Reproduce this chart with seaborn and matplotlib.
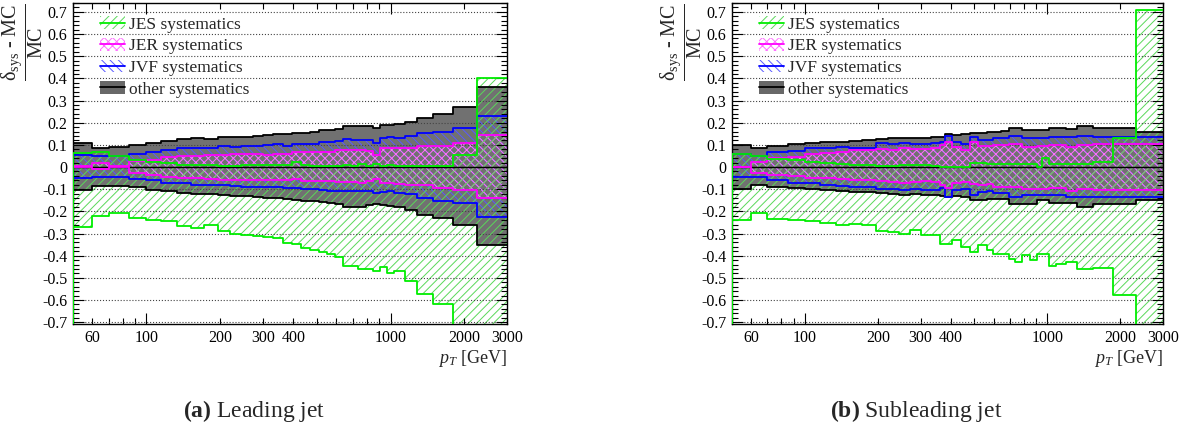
import numpy as np
import matplotlib
matplotlib.use('Agg')
import matplotlib.pyplot as plt
import seaborn as sns
from matplotlib.patches import Patch
from matplotlib.lines import Line2D
from matplotlib.legend_handler import HandlerTuple
from matplotlib.ticker import FixedLocator, FuncFormatter, MultipleLocator

# ---------------- data ----------------
EDGES_L = [50, 60, 70, 85, 100, 115, 134, 152, 172, 196, 220, 245, 272, 300, 330, 362, 396, 430, 468,
           507, 548, 592, 638, 686, 737, 790, 846, 905, 967, 1032, 1148, 1282, 1491, 1800, 2250, 3000]
L_OTHER_UP = [0.110, 0.087, 0.090, 0.098, 0.110, 0.117, 0.125, 0.130, 0.128, 0.134, 0.137, 0.137, 0.140, 0.145,
              0.147, 0.148, 0.152, 0.155, 0.156, 0.165, 0.167, 0.172, 0.187, 0.185, 0.187, 0.185, 0.178, 0.190,
              0.190, 0.192, 0.205, 0.223, 0.238, 0.270, 0.363]
L_JVF_UP = [0.055, 0.050, 0.048, 0.057, 0.066, 0.077, 0.085, 0.087, 0.086, 0.093, 0.092, 0.094, 0.096, 0.098,
            0.104, 0.097, 0.105, 0.106, 0.105, 0.113, 0.115, 0.118, 0.125, 0.122, 0.121, 0.122, 0.110, 0.130,
            0.134, 0.133, 0.138, 0.152, 0.157, 0.175, 0.232]
L_JER_UP = [0.004, 0.017, 0.003, 0.028, 0.030, 0.045, 0.051, 0.052, 0.054, 0.055, 0.057, 0.058, 0.058, 0.055,
            0.060, 0.058, 0.068, 0.069, 0.066, 0.070, 0.068, 0.075, 0.077, 0.076, 0.079, 0.074, 0.054, 0.085,
            0.086, 0.084, 0.088, 0.096, 0.097, 0.110, 0.145]
L_JES_UP = [0.064, 0.066, 0.048, 0.032, 0.025, 0.017, 0.010, 0.009, 0.008, 0.006, 0.006, 0.007, 0.008, 0.008,
            0.010, 0.010, 0.022, 0.008, 0.006, 0.005, 0.006, 0.006, 0.010, 0.006, 0.012, 0.004, 0.012, 0.004,
            0.010, 0.004, 0.003, 0.003, 0.003, 0.054, 0.400]
L_JER_DN = [-0.002, -0.010, 0.000, -0.026, -0.037, -0.044, -0.050, -0.051, -0.052, -0.057, -0.059, -0.058,
            -0.060, -0.058, -0.057, -0.060, -0.055, -0.063, -0.062, -0.065, -0.064, -0.066, -0.066, -0.068,
            -0.070, -0.063, -0.052, -0.074, -0.070, -0.076, -0.081, -0.082, -0.096, -0.104, -0.141]
L_JVF_DN = [-0.048, -0.044, -0.044, -0.056, -0.059, -0.070, -0.074, -0.080, -0.081, -0.080, -0.086, -0.088,
            -0.089, -0.088, -0.090, -0.094, -0.096, -0.097, -0.098, -0.104, -0.106, -0.110, -0.108, -0.106,
            -0.108, -0.110, -0.118, -0.112, -0.110, -0.115, -0.123, -0.139, -0.152, -0.164, -0.224]
L_OTHER_DN = [-0.104, -0.084, -0.085, -0.088, -0.104, -0.110, -0.118, -0.120, -0.122, -0.126, -0.129, -0.130,
              -0.134, -0.138, -0.141, -0.145, -0.147, -0.153, -0.155, -0.158, -0.162, -0.168, -0.180, -0.180,
              -0.178, -0.170, -0.168, -0.172, -0.176, -0.178, -0.195, -0.217, -0.232, -0.262, -0.352]
L_JES_DN = [-0.272, -0.221, -0.206, -0.232, -0.240, -0.243, -0.266, -0.273, -0.262, -0.290, -0.300, -0.305,
            -0.310, -0.315, -0.322, -0.343, -0.345, -0.366, -0.372, -0.385, -0.390, -0.405, -0.446, -0.446,
            -0.458, -0.458, -0.470, -0.450, -0.480, -0.470, -0.515, -0.571, -0.620, -0.800, -0.800]

EDGES_R = [50, 60, 70, 85, 100, 115, 134, 152, 172, 196, 220, 245, 272, 300, 330, 362, 378, 405, 440, 478,
           518, 562, 598, 645, 692, 738, 785, 850, 908, 951, 1013, 1081, 1189, 1320, 1546, 1873, 2321, 3000]
R_OTHER_UP = [0.099, 0.087, 0.095, 0.102, 0.107, 0.111, 0.114, 0.117, 0.120, 0.126, 0.129, 0.129, 0.131, 0.133,
              0.137, 0.137, 0.148, 0.145, 0.148, 0.152, 0.154, 0.160, 0.160, 0.162, 0.175, 0.175, 0.168, 0.166,
              0.166, 0.166, 0.175, 0.175, 0.172, 0.184, 0.178, 0.178, 0.156]
R_JVF_UP = [0.057, 0.052, 0.066, 0.072, 0.084, 0.087, 0.092, 0.088, 0.088, 0.107, 0.102, 0.110, 0.106, 0.106,
            0.108, 0.112, 0.140, 0.115, 0.104, 0.137, 0.120, 0.122, 0.130, 0.130, 0.140, 0.140, 0.130, 0.130,
            0.130, 0.130, 0.137, 0.137, 0.137, 0.140, 0.137, 0.137, 0.134]
R_JER_UP = [0.000, 0.024, 0.042, 0.047, 0.057, 0.062, 0.069, 0.075, 0.077, 0.080, 0.078, 0.084, 0.080, 0.082,
            0.084, 0.098, 0.115, 0.092, 0.077, 0.115, 0.094, 0.097, 0.098, 0.098, 0.104, 0.104, 0.092, 0.092,
            0.096, 0.096, 0.098, 0.098, 0.092, 0.098, 0.104, 0.104, 0.104]
R_JES_UP = [0.057, 0.050, 0.036, 0.032, 0.024, 0.017, 0.012, 0.009, 0.008, 0.006, 0.006, 0.007, 0.008, 0.009,
            0.006, 0.002, 0.002, 0.002, 0.002, 0.017, 0.017, 0.012, 0.012, 0.012, 0.012, 0.012, 0.012, 0.012,
            0.002, 0.040, 0.012, 0.012, 0.012, 0.012, 0.024, 0.130, 0.709]
R_JER_DN = [0.000, -0.026, -0.037, -0.041, -0.048, -0.051, -0.053, -0.057, -0.059, -0.063, -0.066, -0.070,
            -0.068, -0.065, -0.066, -0.081, -0.096, -0.070, -0.066, -0.076, -0.081, -0.076, -0.089, -0.089,
            -0.092, -0.092, -0.099, -0.099, -0.099, -0.099, -0.096, -0.096, -0.107, -0.099, -0.104, -0.104, -0.104]
R_JVF_DN = [-0.044, -0.044, -0.059, -0.070, -0.074, -0.081, -0.084, -0.089, -0.089, -0.099, -0.099, -0.104,
            -0.097, -0.104, -0.104, -0.096, -0.134, -0.104, -0.101, -0.126, -0.111, -0.107, -0.116, -0.116,
            -0.134, -0.134, -0.124, -0.124, -0.124, -0.124, -0.124, -0.124, -0.134, -0.134, -0.134, -0.134, -0.134]
R_OTHER_DN = [-0.099, -0.081, -0.089, -0.093, -0.100, -0.104, -0.108, -0.111, -0.113, -0.119, -0.122, -0.124,
              -0.120, -0.126, -0.128, -0.131, -0.137, -0.131, -0.134, -0.149, -0.149, -0.142, -0.142, -0.142,
              -0.167, -0.167, -0.167, -0.167, -0.149, -0.149, -0.164, -0.164, -0.164, -0.179, -0.167, -0.167, -0.149]
R_JES_DN = [-0.239, -0.206, -0.235, -0.239, -0.244, -0.254, -0.262, -0.259, -0.262, -0.289, -0.292, -0.304,
            -0.284, -0.307, -0.307, -0.345, -0.345, -0.327, -0.360, -0.382, -0.352, -0.372, -0.393, -0.393,
            -0.413, -0.428, -0.398, -0.420, -0.393, -0.393, -0.447, -0.438, -0.428, -0.462, -0.457, -0.577, -0.800]

LEGEND_LABELS = ["JES systematics", "JER systematics", "JVF systematics", "other systematics"]
X_TICK_LABELS = [60, 100, 200, 300, 400, 1000, 2000, 3000]
Y_TICKS = [-0.7, -0.6, -0.5, -0.4, -0.3, -0.2, -0.1, 0.0, 0.1, 0.2, 0.3, 0.4, 0.5, 0.6, 0.7]
CAPTIONS = [r"$\mathbf{(a)}$ Leading jet", r"$\mathbf{(b)}$ Subleading jet"]

# ---------------- style ----------------
sns.set_theme(style="ticks")
plt.rcParams.update({
    "font.family": ["Liberation Serif", "DejaVu Serif"],
    "mathtext.fontset": "custom",
    "mathtext.rm": "Liberation Serif",
    "mathtext.it": "Liberation Serif:italic",
    "mathtext.bf": "Liberation Serif:bold",
    "axes.unicode_minus": False,
    "hatch.linewidth": 0.7,
    "axes.edgecolor": "black",
    "axes.linewidth": 1.0,
    "xtick.color": "black",
    "ytick.color": "black",
})

GRAY = "#717171"
C_JES, H_JES = "#00ee00", "#5ad85a"
C_JER, H_JER = "#ff00ff", "#ff70ff"
C_JVF, H_JVF = "#0000ff", "#5a5aff"


def step_line(ax, edges, vals, color, lw=1.3):
    v = np.asarray(vals, dtype=float)
    sns.lineplot(x=np.asarray(edges, dtype=float), y=np.append(v, v[-1]), drawstyle="steps-post",
                 color=color, lw=lw, ax=ax, zorder=3, estimator=None, sort=False)


def panel(ax, edges, oth_up, oth_dn, jvf_up, jvf_dn, jer_up, jer_dn, jes_up, jes_dn):
    ax.stairs(oth_up, edges, baseline=oth_dn, fill=True, facecolor=GRAY, edgecolor="none", zorder=1.0)
    ax.stairs(jvf_up, edges, baseline=jvf_dn, fill=True, facecolor="none", edgecolor=H_JVF,
              hatch="\\\\\\\\", linewidth=0, zorder=1.1)
    ax.stairs(jer_up, edges, baseline=jer_dn, fill=True, facecolor="none", edgecolor=H_JER,
              hatch="xxxx", linewidth=0, zorder=1.2)
    ax.stairs(jes_up, edges, baseline=jes_dn, fill=True, facecolor="none", edgecolor=H_JES,
              hatch="////", linewidth=0, zorder=1.3)
    ax.axhline(0, color="black", lw=1.0, zorder=2.8)
    for up, dn, c in [(oth_up, oth_dn, "black"), (jvf_up, jvf_dn, C_JVF),
                      (jer_up, jer_dn, C_JER), (jes_up, jes_dn, C_JES)]:
        step_line(ax, edges, up, c)
        step_line(ax, edges, dn, c)
    ax.vlines(edges[0], -1.0, jes_up[0], color=C_JES, lw=1.5, zorder=3)

    ax.set_xscale("log")
    ax.set_xlim(edges[0], edges[-1])
    ax.set_ylim(-0.708, 0.74)
    ax.xaxis.set_major_locator(FixedLocator([100, 1000]))
    ax.xaxis.set_major_formatter(FuncFormatter(lambda v, p: f"{v:g}"))
    minor = [50, 60, 70, 80, 90, 200, 300, 400, 500, 600, 700, 800, 900, 2000, 3000]
    ax.xaxis.set_minor_locator(FixedLocator(minor))
    ax.xaxis.set_minor_formatter(FuncFormatter(
        lambda v, p: f"{int(round(v))}" if int(round(v)) in X_TICK_LABELS else ""))
    ax.set_yticks(Y_TICKS)
    ax.yaxis.set_major_formatter(FuncFormatter(lambda v, p: "0" if abs(v) < 1e-9 else f"{v:.1f}"))
    ax.yaxis.set_minor_locator(MultipleLocator(0.02))
    ax.tick_params(which="both", direction="in", top=True, right=True, labelsize=11.5, pad=4)
    ax.tick_params(which="major", length=8, width=0.8)
    ax.tick_params(which="minor", length=4, width=0.8)
    ax.set_axisbelow(False)
    ax.yaxis.grid(True, which="major", ls=":", color="#444444", lw=0.8)
    ax.xaxis.grid(False)

    ax.set_ylabel("$\\dfrac{\\mathrm{δ_{sys}\\ \u2010\\ MC}}{\\mathrm{MC}}$", loc="top", fontsize=14.5)
    ax.yaxis.set_label_coords(-0.064, 1.0)
    ax.set_xlabel(r"$p_{T}$ [GeV]", loc="right", fontsize=13)
    ax.xaxis.set_label_coords(1.0, -0.075)

    handles = [
        (Patch(facecolor="white", edgecolor=H_JES, hatch="////", linewidth=0),
         Line2D([], [], color=C_JES, lw=1.3)),
        (Patch(facecolor="white", edgecolor=H_JER, hatch="xxxx", linewidth=0),
         Line2D([], [], color=C_JER, lw=1.3)),
        (Patch(facecolor="white", edgecolor=H_JVF, hatch="\\\\\\\\", linewidth=0),
         Line2D([], [], color=C_JVF, lw=1.3)),
        (Patch(facecolor="#686868", edgecolor="none"),
         Line2D([], [], color="black", lw=1.3)),
    ]
    leg = ax.legend(handles, LEGEND_LABELS, handler_map={tuple: HandlerTuple(ndivide=1)},
                    loc="upper left", bbox_to_anchor=(0.038, 0.991), frameon=False, fontsize=12.5,
                    handlelength=1.45, handleheight=0.75, labelspacing=0.3, handletextpad=0.22,
                    borderaxespad=0.2)
    leg.set_zorder(5)


fig = plt.figure(figsize=(11.89, 4.33), dpi=100)
axL = fig.add_axes([73 / 1189, 1 - 324 / 433, 434 / 1189, 321 / 433])
axR = fig.add_axes([732 / 1189, 1 - 324 / 433, 431 / 1189, 321 / 433])
panel(axL, EDGES_L, L_OTHER_UP, L_OTHER_DN, L_JVF_UP, L_JVF_DN, L_JER_UP, L_JER_DN, L_JES_UP, L_JES_DN)
panel(axR, EDGES_R, R_OTHER_UP, R_OTHER_DN, R_JVF_UP, R_JVF_DN, R_JER_UP, R_JER_DN, R_JES_UP, R_JES_DN)

fig.text(254 / 1189, 1 - 411 / 433, CAPTIONS[0], ha="center", va="center", fontsize=17)
fig.text(916 / 1189, 1 - 411 / 433, CAPTIONS[1], ha="center", va="center", fontsize=17)

fig.savefig("out.png", dpi=100)
